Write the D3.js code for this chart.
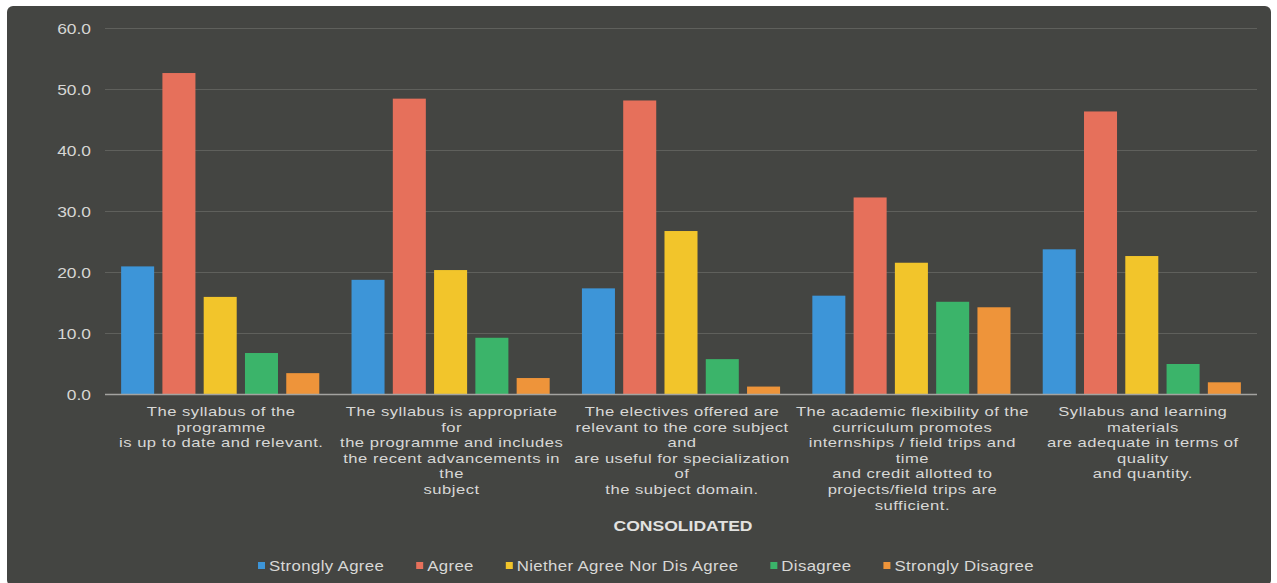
<!DOCTYPE html>
<html>
<head>
<meta charset="utf-8">
<script src="https://cdn.jsdelivr.net/npm/d3@7"></script>
<style>
  html, body { margin: 0; padding: 0; background: #ffffff; }
  svg { display: block; }
  text { font-family: "Liberation Sans", Arial, Helvetica, sans-serif; }
</style>
</head>
<body>
<svg id="chart" width="1277" height="583"></svg>
<script>
// ---- data ----
const categories = [
  "The syllabus of the programme is up to date and relevant.",
  "The syllabus is appropriate for the programme and includes the recent advancements in the subject",
  "The electives offered are relevant to the core subject and are useful for specialization of the subject domain.",
  "The academic flexibility of the curriculum promotes internships / field trips and time and credit allotted to projects/field trips are sufficient.",
  "Syllabus and learning materials are adequate in terms of quality and quantity."
];
const categoryLines = [
  ["The syllabus of the", "programme", "is up to date and relevant."],
  ["The syllabus is appropriate", "for", "the programme and includes", "the recent advancements in", "the", "subject"],
  ["The electives offered are", "relevant to the core subject", "and", "are useful for specialization", "of", "the subject domain."],
  ["The academic flexibility of the", "curriculum promotes", "internships / field trips and", "time", "and credit allotted to", "projects/field trips are", "sufficient."],
  ["Syllabus and learning", "materials", "are adequate in terms of", "quality", "and quantity."]
];
const seriesNames = ["Strongly Agree", "Agree", "Niether Agree Nor Dis Agree", "Disagree", "Strongly Disagree"];
const stronglyAgree    = [21.0, 18.8, 17.4, 16.2, 23.8];
const agree            = [52.7, 48.5, 48.2, 32.3, 46.4];
const neither          = [16.0, 20.4, 26.8, 21.6, 22.7];
const disagree         = [6.8, 9.3, 5.8, 15.2, 5.0];
const stronglyDisagree = [3.5, 2.7, 1.3, 14.3, 2.0];
const seriesValues = [stronglyAgree, agree, neither, disagree, stronglyDisagree];
const seriesColors = ["#3d95d8", "#e6705b", "#f2c52b", "#3bb46a", "#ee943a"];
const yTicks = [0, 10, 20, 30, 40, 50, 60];
const axisTitle = "CONSOLIDATED";

// ---- drawing ----
const svg = d3.select("#chart");
const W = 1277, H = 583;

svg.append("rect").attr("x", 0).attr("y", 0).attr("width", W).attr("height", H).attr("fill", "#ffffff");
svg.append("rect").attr("x", 7).attr("y", 6).attr("width", 1264).attr("height", 580)
  .attr("rx", 6).attr("fill", "#444542");

const y = d3.scaleLinear().domain([0, 60]).range([394.5, 28.5]);
const x0 = d3.scaleBand().domain(categories).range([105, 1257]).paddingInner(0.14).paddingOuter(0.07);
const x1 = d3.scaleBand().domain(seriesNames).range([0, x0.bandwidth()]).paddingInner(0.2).paddingOuter(0);

// gridlines
svg.append("g").selectAll("line").data(yTicks.filter(d => d > 0)).join("line")
  .attr("x1", 105).attr("x2", 1257)
  .attr("y1", d => y(d)).attr("y2", d => y(d))
  .attr("stroke", "#5f605c").attr("stroke-width", 1);

// y tick labels
svg.append("g").selectAll("text").data(yTicks).join("text")
  .attr("transform", d => `translate(91,${y(d) + 5.5}) scale(1.16,1)`)
  .attr("text-anchor", "end")
  .attr("fill", "#d6d6d4")
  .attr("font-size", 15)
  .text(d => d3.format(".1f")(d));

// bars
const groups = svg.append("g").selectAll("g").data(categories).join("g")
  .attr("transform", d => `translate(${x0(d)},0)`);
groups.selectAll("rect")
  .data((c, ci) => seriesNames.map((s, si) => ({ s, si, v: seriesValues[si][ci] })))
  .join("rect")
  .attr("x", d => x1(d.s))
  .attr("width", x1.bandwidth())
  .attr("y", d => y(d.v))
  .attr("height", d => y(0) - y(d.v))
  .attr("fill", d => seriesColors[d.si]);

// baseline
svg.append("line").attr("x1", 105).attr("x2", 1257).attr("y1", y(0)).attr("y2", y(0))
  .attr("stroke", "#a3a3a0").attr("stroke-width", 1.5);

// category labels
const catG = svg.append("g");
categories.forEach((c, ci) => {
  const t = catG.append("text")
    .attr("transform", `translate(${x0(c) + x0.bandwidth() / 2 + 1},0) scale(1.23,1)`)
    .attr("text-anchor", "middle")
    .attr("fill", "#d8d8d6")
    .attr("font-size", 13.5)
    .attr("letter-spacing", 0.4);
  categoryLines[ci].forEach((line, li) => {
    t.append("tspan")
      .attr("x", 0)
      .attr("y", 416 + li * 15.6)
      .text(line);
  });
});

// axis title
svg.append("text")
  .attr("transform", "translate(683,531) scale(1.17,1)")
  .attr("text-anchor", "middle")
  .attr("fill", "#e2e2e0")
  .attr("font-size", 15)
  .attr("font-weight", "bold")
  .text(axisTitle);

// legend
const LS = 1.2;
const legend = svg.append("g");
const items = legend.selectAll("g").data(seriesNames).join("g");
items.append("rect").attr("width", 7).attr("height", 7).attr("y", -3.5)
  .attr("fill", (d, i) => seriesColors[i]);
items.append("text")
  .attr("transform", `translate(11,5) scale(${LS},1)`)
  .attr("fill", "#d8d8d6").attr("font-size", 14).attr("letter-spacing", 0.3)
  .text(d => d);
let cx = 0;
const offsets = [];
items.each(function () {
  offsets.push(cx);
  const w = d3.select(this).select("text").node().getComputedTextLength() * LS;
  cx += 11 + w + 32;
});
const totalW = cx - 32;
const startX = 646 - totalW / 2;
items.attr("transform", (d, i) => `translate(${startX + offsets[i]},565.5)`);
</script>
</body>
</html>
